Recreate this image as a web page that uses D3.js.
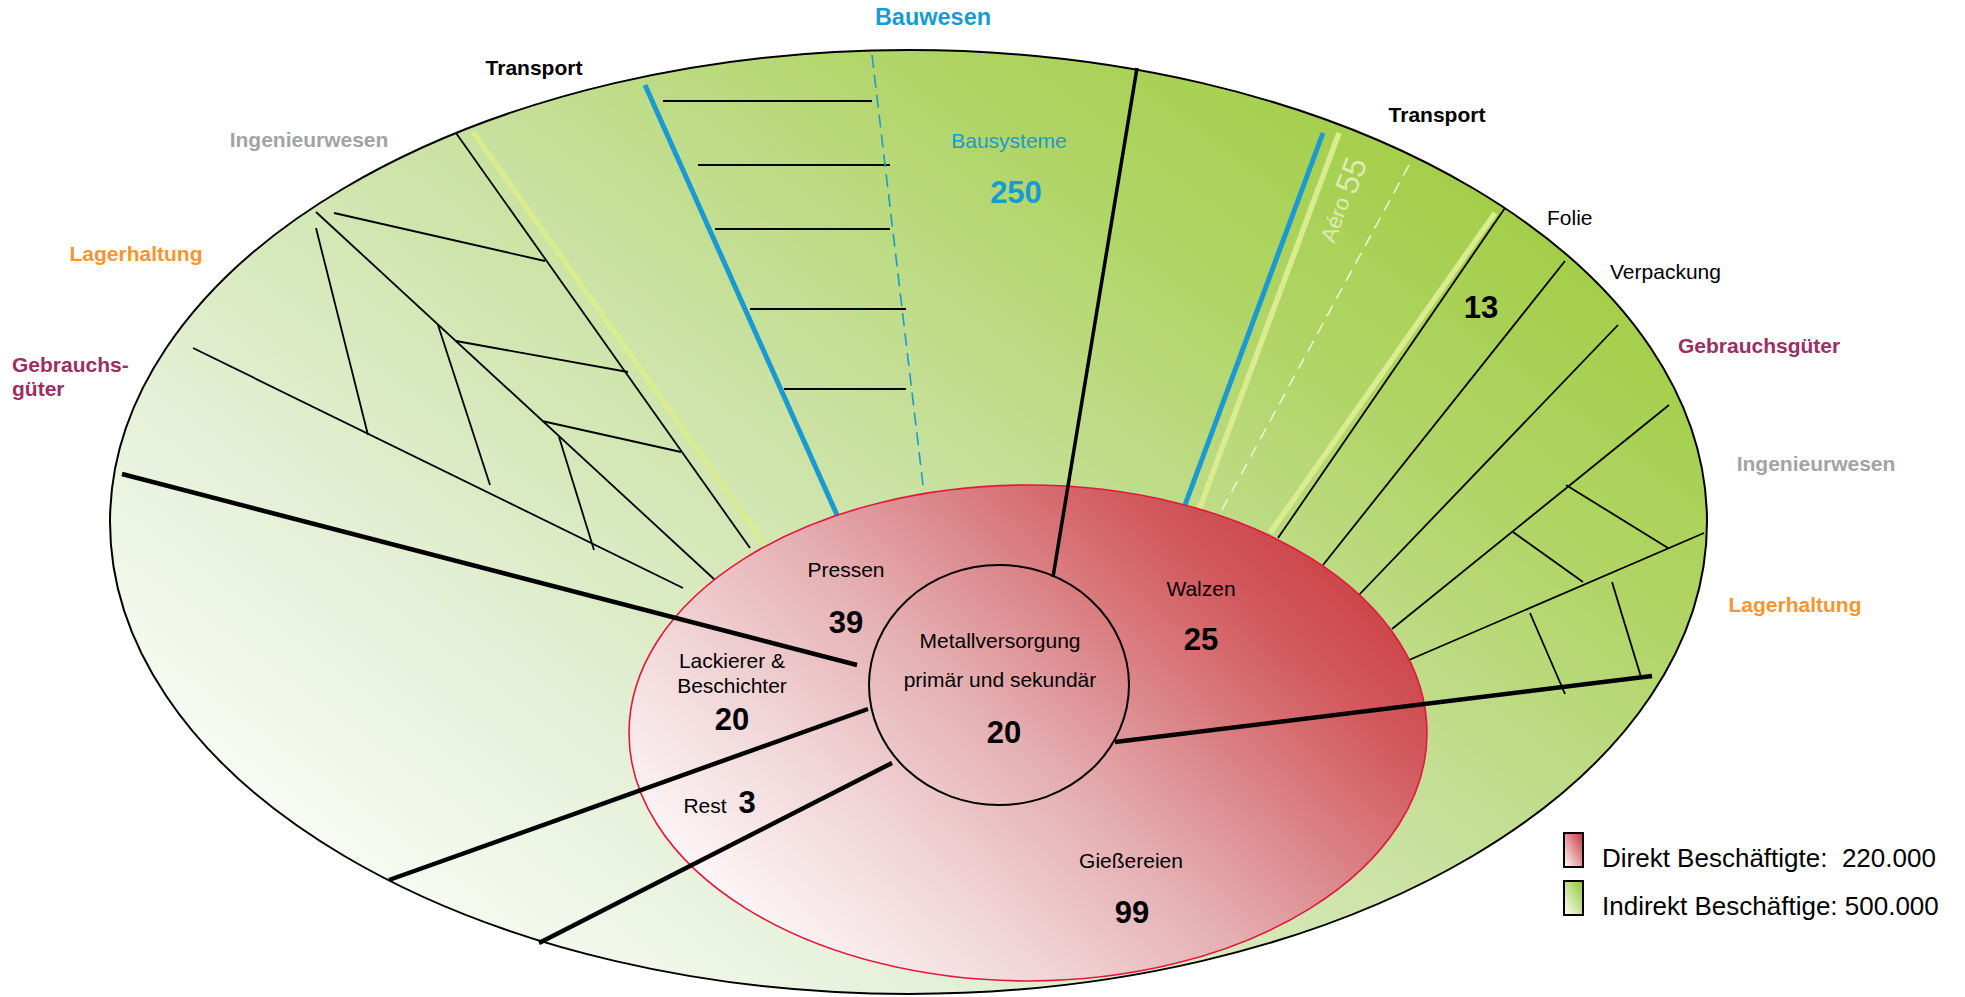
<!DOCTYPE html>
<html lang="de">
<head>
<meta charset="utf-8">
<title>Beschäftigte Metallverarbeitung</title>
<script src="https://cdn.jsdelivr.net/npm/d3@7"></script>
<style>
    html, body { margin: 0; padding: 0; background: #fff; }
    svg { display: block; font-family: "Liberation Sans", Arial, Helvetica, sans-serif; }
</style>
</head>
<body>
<div id="chart"></div>
<script>
// --- values (Tausend Beschäftigte) ---
const directNames = ["Pressen", "Lackierer &\nBeschichter", "Walzen", "Gießereien", "Rest", "Metallversorgung\nprimär und sekundär"];
const directValues = [39, 20, 25, 99, 3, 20];

const indirectNames = ["Bausysteme", "Verpackung", "Aéro"];
const indirectValues = [250, 13, 55];

const sectorNames = ["Bauwesen", "Transport", "Ingenieurwesen", "Lagerhaltung", "Gebrauchs-\ngüter",
    "Transport", "Folie", "Verpackung", "Gebrauchsgüter", "Ingenieurwesen", "Lagerhaltung"];

const legendNames = ["Direkt Beschäftigte:  ", "Indirekt Beschäftige: "];
const legendValues = ["220.000", "500.000"];

// --- layout of the drawing (picture units) ---
const W = 1965, H = 997;
const x = d3.scaleLinear().domain([0, 1965]).range([0, W]);
const y = d3.scaleLinear().domain([0, 997]).range([0, H]);

const outerRing = { cx: 908.5, cy: 522, rx: 798.5, ry: 472 };
const directRing = { cx: 1028, cy: 733, rx: 399, ry: 248 };
const coreRing = { cx: 999, cy: 685, rx: 130, ry: 120 };

// segments [x1, y1, x2, y2]
const thinUnder = [
    [456, 133, 750, 548], [316, 212, 715, 580], [193, 348, 683, 588],
    [334, 213, 545, 261], [316, 228, 368, 435], [438, 325, 490, 485],
    [456, 341, 628, 372], [542, 421, 681, 452], [559, 437, 594, 550],
    [663, 101, 872, 101], [698, 165, 890, 165], [715, 229, 890, 229],
    [750, 309, 906, 309], [784, 389, 906, 389],
    [1505, 208, 1278, 538], [1565, 261, 1323, 565], [1618, 325, 1357, 597],
    [1669, 405, 1392, 629], [1704, 533, 1409, 660], [1566, 485, 1668, 548],
    [1513, 532, 1583, 582], [1530, 613, 1565, 694], [1612, 582, 1641, 677]
];
const lightLines = [[473, 132, 767, 548], [1339, 133, 1199, 510], [1495, 213, 1270, 533]];
const blueLines = [[645, 85, 837, 515], [1323, 133, 1185, 505]];
const blueDash = [[872, 55, 923, 485]];
const whiteDash = [[1409, 165, 1218, 517]];
const thickLines = [[122, 474, 857, 665], [389, 880, 868, 709], [539, 943, 892, 763], [1115, 742, 1652, 676]];
const spineLines = [[1137, 68, 1053, 577]];

const sectorPos = [
    { x: 933, y: 25, c: "#1a9ad2", s: 23.5, a: "middle" },
    { x: 534, y: 75, c: "#000", a: "middle" },
    { x: 309, y: 147, c: "#a3a3a3", a: "middle" },
    { x: 136, y: 261, c: "#f7962f", a: "middle" },
    { x: 12, y: 372, c: "#9b2f63", a: "start" },
    { x: 1437, y: 122, c: "#000", a: "middle" },
    { x: 1547, y: 225, c: "#000", a: "start", w: "normal" },
    { x: 1610, y: 279, c: "#000", a: "start", w: "normal" },
    { x: 1678, y: 353, c: "#9b2f63", a: "start" },
    { x: 1816, y: 471, c: "#a3a3a3", a: "middle" },
    { x: 1795, y: 612, c: "#f7962f", a: "middle" }
];
const directPos = [
    { x: 846, y: 577, vx: 846, vy: 633 },
    { x: 732, y: 668, vx: 732, vy: 730 },
    { x: 1201, y: 596, vx: 1201, vy: 650 },
    { x: 1131, y: 868, vx: 1132, vy: 923 },
    { x: 705, y: 813, vx: 747, vy: 813 },
    { x: 1000, y: 648, vx: 1004, vy: 743, lh: 39 }
];

const svg = d3.select("#chart").append("svg")
    .attr("width", W)
    .attr("height", H)
    .attr("viewBox", "0 0 " + W + " " + H);

const defs = svg.append("defs");

function gradient(id, stops, coords) {
    const g = defs.append("linearGradient").attr("id", id);
    if (coords) {
        g.attr("gradientUnits", "userSpaceOnUse")
            .attr("x1", x(coords[0])).attr("y1", y(coords[1]))
            .attr("x2", x(coords[2])).attr("y2", y(coords[3]));
    } else {
        g.attr("x1", 1).attr("y1", 0).attr("x2", 0).attr("y2", 1);
    }
    stops.forEach(s => g.append("stop").attr("offset", s[0]).attr("stop-color", s[1]));
}

const greenStops = [[0, "#a2cd45"], [0.22, "#b1d567"], [0.48, "#c9e1a0"], [0.8, "#e5f0d8"], [1, "#f7fbf3"]];
const redStops = [[0, "#c93a40"], [0.2, "#d25a5e"], [0.4, "#dc8a8e"], [0.55, "#e5afb2"], [0.75, "#f0d3d5"], [1, "#fdf7f8"]];
gradient("gGreen", greenStops, [1550, 200, 801, 1201]);
gradient("gRed", redStops, [1320, 480, 830, 1010]);
gradient("gGreenKey", [[0, "#8fc42e"], [1, "#ffffff"]]);
gradient("gRedKey", [[0, "#c8323a"], [1, "#ffffff"]]);

function ellipse(layer, e) {
    return layer.append("ellipse")
        .attr("cx", x(e.cx)).attr("cy", y(e.cy))
        .attr("rx", x(e.rx) - x(0)).attr("ry", y(e.ry) - y(0));
}

function segments(layer, data, stroke, width, dash) {
    layer.selectAll(null)
        .data(data)
        .enter()
        .append("line")
        .attr("x1", d => x(d[0])).attr("y1", d => y(d[1]))
        .attr("x2", d => x(d[2])).attr("y2", d => y(d[3]))
        .attr("stroke", stroke)
        .attr("stroke-width", width)
        .attr("stroke-dasharray", dash || null);
}

// outer (indirect) ring
ellipse(svg, outerRing).attr("fill", "url(#gGreen)").attr("stroke", "none");

const under = svg.append("g");
segments(under, thinUnder, "#000", 1.8);
segments(under, lightLines, "#d9ec8f", 5.5);
segments(under, blueLines, "#1a9ad2", 5);
segments(under, blueDash, "#1a9ad2", 1.6, "13,7");
segments(under, whiteDash, "#eef6d6", 1.5, "12,8");

ellipse(svg, outerRing).attr("fill", "none").attr("stroke", "#000").attr("stroke-width", 2);

// direct ring
ellipse(svg, directRing).attr("fill", "url(#gRed)").attr("stroke", "#e3173e").attr("stroke-width", 1.6);

const over = svg.append("g");
segments(over, thickLines, "#000", 4.5);
segments(over, spineLines, "#000", 3.5);

ellipse(svg, coreRing).attr("fill", "none").attr("stroke", "#000").attr("stroke-width", 2);

// multi-line text helper
function label(layer, text, px, py, size, weight, color, anchor, lh) {
    const t = layer.append("text")
        .attr("x", x(px)).attr("y", y(py))
        .attr("font-size", size)
        .attr("font-weight", weight)
        .attr("fill", color)
        .attr("text-anchor", anchor)
        .style("white-space", "pre");
    text.split("\n").forEach((line, i) => {
        t.append("tspan").attr("x", x(px)).attr("dy", i === 0 ? 0 : (lh || 25)).text(line);
    });
    return t;
}

const labels = svg.append("g");

sectorNames.forEach((name, i) => {
    const p = sectorPos[i];
    label(labels, name, p.x, p.y, p.s || 21, p.w || "bold", p.c, p.a, 24);
});

directNames.forEach((name, i) => {
    const p = directPos[i];
    label(labels, name, p.x, p.y, 21, "normal", "#000", "middle", p.lh || 25);
    label(labels, String(directValues[i]), p.vx, p.vy, 31, "bold", "#000", "middle");
});

// Bausysteme
label(labels, indirectNames[0], 1009, 148, 21, "normal", "#1a9ad2", "middle");
label(labels, String(indirectValues[0]), 1016, 203, 31, "bold", "#1a9ad2", "middle");
// Verpackung / Folie value
label(labels, String(indirectValues[1]), 1481, 318, 31, "bold", "#000", "middle");
// Aéro along the transport line
const aero = labels.append("text")
    .attr("transform", "translate(" + x(1342) + "," + y(200) + ") rotate(-69.6)")
    .attr("text-anchor", "middle")
    .attr("dominant-baseline", "central")
    .attr("fill", "#dcecb2");
aero.append("tspan").attr("font-size", 22).text(indirectNames[2] + " ");
aero.append("tspan").attr("font-size", 32).text(indirectValues[2]);

// legend
const legend = svg.append("g");
["url(#gRedKey)", "url(#gGreenKey)"].forEach((fill, i) => {
    legend.append("rect")
        .attr("x", x(1564)).attr("y", y(833 + i * 48))
        .attr("width", x(19) - x(0)).attr("height", y(34) - y(0))
        .attr("fill", fill)
        .attr("stroke", "#000")
        .attr("stroke-width", 2);
    label(legend, legendNames[i] + legendValues[i], 1602, 867 + i * 48, 26, "normal", "#000", "start");
});
</script>
</body>
</html>
